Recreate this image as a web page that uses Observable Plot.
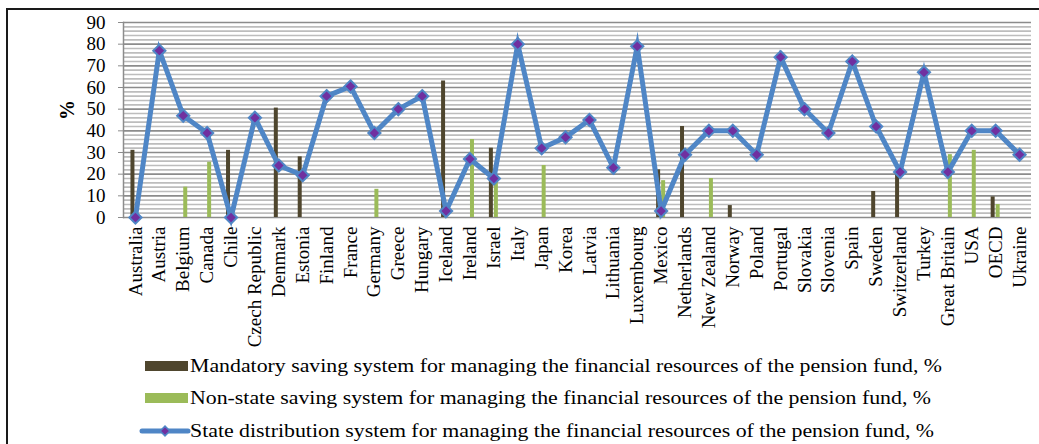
<!DOCTYPE html>
<html><head><meta charset="utf-8">
<script src="https://cdn.jsdelivr.net/npm/d3@7"></script>
<script src="https://cdn.jsdelivr.net/npm/@observablehq/plot@0.6"></script>
<style>
body{margin:0;background:#fff;}
#wrap{position:relative;width:1039px;height:444px;overflow:hidden;background:#fff;}
#frame{position:absolute;left:6px;top:8px;width:1100px;height:500px;border:2px solid #1a1a1a;box-sizing:border-box;}
#chart{position:absolute;left:0;top:0;}
#legend{position:absolute;left:0;top:0;}
</style></head><body>
<div id="wrap"><div id="frame"></div><div id="chart"></div>
<svg id="legend" width="1039" height="444" xmlns="http://www.w3.org/2000/svg"></svg>
</div>
<script>
const countries = ["Australia","Austria","Belgium","Canada","Chile","Czech Republic","Denmark","Estonia","Finland","France","Germany","Greece","Hungary","Iceland","Ireland","Israel","Italy","Japan","Korea","Latvia","Lithuania","Luxembourg","Mexico","Netherlands","New Zealand","Norway","Poland","Portugal","Slovakia","Slovenia","Spain","Sweden","Switzerland","Turkey","Great Britain","USA","OECD","Ukraine"];
const mandatory = [31,null,null,null,31,null,50.5,28,null,null,null,null,null,63,null,32,null,null,null,null,null,null,22,42,null,5.5,null,null,null,null,null,12,21,null,null,null,9.5,null];
const nonState = [null,null,14,25.5,null,null,null,null,null,null,13,null,null,null,36,17,null,24,null,null,null,null,17,null,18,null,null,null,null,null,null,null,null,null,29,31,6,null];
const stateDist = [0,77,47,39,0,46,24,19.5,56,60.5,39,50,56,3,27,18,80,32,37,45,23,79,3,29,40,40,29,74,50,39,72,42,21,67,21,40,40,29];
const yTicks = [0,10,20,30,40,50,60,70,80,90];
const seriesNames = [
  "Mandatory saving system for managing the financial resources of the pension fund, %",
  "Non-state saving system for managing the financial resources of the pension fund, %",
  "State distribution system for managing the financial resources of the pension fund, %"
];
const colors = {mandatory:"#4f462e", nonState:"#9bbb59", line:"#4f86c6", marker:"#7030a0"};

const rows = countries.map((c,i)=>({country:c, mandatory:mandatory[i], nonState:nonState[i], state:stateDist[i]}));
const minorGrid = d3.range(2, 90, 2).filter(v => v % 10 !== 0);
const font = "'Liberation Serif', 'Times New Roman', serif";

const plot = Plot.plot({
  width: 1039,
  height: 345,
  marginLeft: 123,
  marginRight: 8,
  marginTop: 22,
  marginBottom: 128,
  style: {fontFamily: font, fontSize: "19px", color: "#000", background: "transparent", overflow: "visible"},
  x: {type: "band", domain: countries, paddingInner: 0.833, paddingOuter: 0.4165, align: 0.5},
  y: {domain: [0, 90]},
  marks: [
    Plot.ruleY(minorGrid, {stroke: "#bdbdbd", strokeWidth: 1.6}),
    Plot.ruleY(yTicks, {stroke: "#8c8c8c", strokeWidth: 1.6}),
    Plot.frame({anchor: "left", stroke: "#8c8c8c", strokeWidth: 1.5}),
    Plot.axisY({ticks: yTicks, tickSize: 5, tickPadding: 13, label: null, fontSize: 19, stroke: "#8c8c8c"}),
    Plot.axisX({tickRotate: -90, tickSize: 0, tickPadding: 9, label: null, fontSize: 19}),
    Plot.barY(rows.filter(d => d.mandatory != null), {x: "country", y: "mandatory", fill: colors.mandatory, dx: -2.5}),
    Plot.barY(rows.filter(d => d.nonState != null), {x: "country", y: "nonState", fill: colors.nonState, dx: 2.5}),
    Plot.line(rows, {x: "country", y: "state", stroke: colors.line, strokeWidth: 5, strokeLinejoin: "miter", strokeMiterlimit: 10}),
    Plot.dot(rows, {x: "country", y: "state", symbol: "diamond2", r: 5.5, fill: colors.marker, stroke: colors.line, strokeWidth: 2}),
    Plot.text(["%"], {frameAnchor: "left", dx: -56, rotate: -90, fontWeight: "bold", fontSize: 20, fill: "#000"})
  ]
});
document.getElementById("chart").appendChild(plot);

// legend
const lg = d3.select("#legend");
const items = [
  {name: seriesNames[0], type: "bar", color: colors.mandatory, y: 366, len: 752},
  {name: seriesNames[1], type: "bar", color: colors.nonState, y: 398, len: 741},
  {name: seriesNames[2], type: "line", color: colors.line, y: 431, len: 744}
];
items.forEach(it => {
  if (it.type === "bar") {
    lg.append("rect").attr("x", 145).attr("y", it.y - 5).attr("width", 43).attr("height", 10).attr("fill", it.color);
  } else {
    lg.append("line").attr("x1", 142).attr("x2", 188).attr("y1", it.y).attr("y2", it.y)
      .attr("stroke", it.color).attr("stroke-width", 5).attr("stroke-linecap", "round");
    lg.append("path").attr("d", d3.symbol(d3.symbolDiamond2, 60)()).attr("transform", `translate(165,${it.y})`)
      .attr("fill", colors.marker).attr("stroke", colors.line).attr("stroke-width", 1.5);
  }
  lg.append("text").attr("x", 190).attr("y", it.y + 6).attr("font-family", font).attr("font-size", 19)
    .attr("textLength", it.len).attr("lengthAdjust", "spacingAndGlyphs").attr("fill", "#000").text(it.name);
});
</script>
</body></html>
